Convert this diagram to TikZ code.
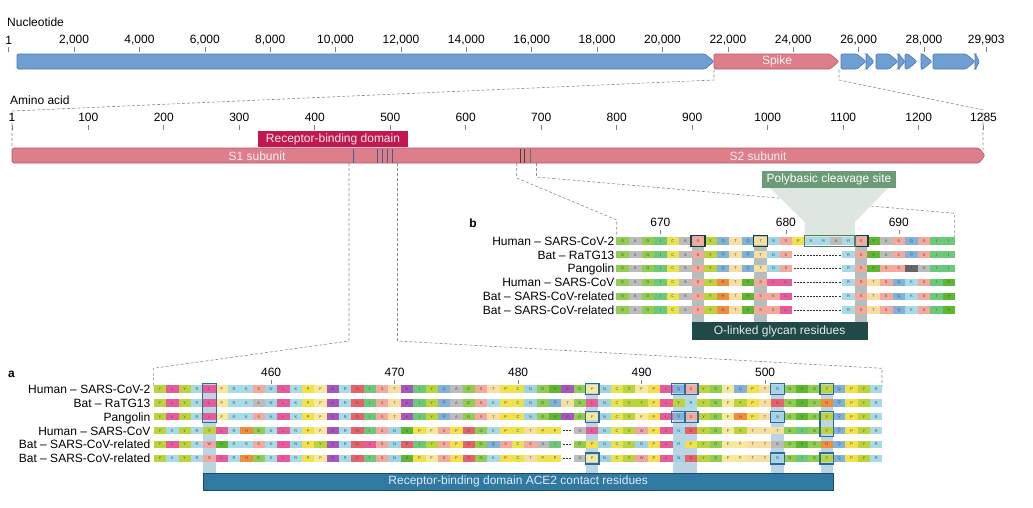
\documentclass[tikz,border=0pt]{standalone}
\usepackage{fontspec}
\setmainfont{Liberation Sans}
\usetikzlibrary{calc}
\definecolor{geneblue}{HTML}{6E9ED2}
\definecolor{genebluedk}{HTML}{4B79AC}
\definecolor{spike}{HTML}{DC7F8B}
\definecolor{spikedk}{HTML}{B55A68}
\definecolor{rbd}{HTML}{C2184F}
\definecolor{pbs}{HTML}{6C9B78}
\definecolor{pbsdk}{HTML}{4F8060}
\definecolor{pbslight}{HTML}{DEE6E0}
\definecolor{olink}{HTML}{1F4A47}
\definecolor{ace}{HTML}{3079A2}
\definecolor{acedk}{HTML}{1D4B67}
\definecolor{hla}{HTML}{BAD5E4}
\definecolor{cboxa}{HTML}{2E6C97}
\definecolor{hlb}{HTML}{B3BEBD}
\definecolor{cboxb}{HTML}{1E3C3B}
\definecolor{rbdmark}{HTML}{3D5E96}
\definecolor{dashc}{HTML}{8C8C8C}
% amino acid colours
\definecolor{aaY}{HTML}{BAD43A}
\definecolor{aaL}{HTML}{E85A9A}
\definecolor{aaR}{HTML}{A8DBE8}
\definecolor{aaK}{HTML}{A8DBE8}
\definecolor{aaN}{HTML}{9FD3E6}
\definecolor{aaF}{HTML}{F6E99A}
\definecolor{aaS}{HTML}{F5A99C}
\definecolor{aaP}{HTML}{F2E14A}
\definecolor{aaE}{HTML}{A855C0}
\definecolor{aaD}{HTML}{E8606A}
\definecolor{aaI}{HTML}{6CC97A}
\definecolor{aaT}{HTML}{F6DFA0}
\definecolor{aaQ}{HTML}{7FB3DD}
\definecolor{aaA}{HTML}{BCBCBC}
\definecolor{aaG}{HTML}{8FCE4F}
\definecolor{aaC}{HTML}{E9E34E}
\definecolor{aaV}{HTML}{5CB82E}
\definecolor{aaH}{HTML}{F08C3C}
\definecolor{aaW}{HTML}{F4A3A8}
\definecolor{aaX}{HTML}{666666}
\def\gapchar{-}
\newcommand\seqrow[5]{%
  \foreach \ltr [count=\ii] in {#5}{%
    \edef\tmpl{\ltr}%
    \ifx\tmpl\gapchar\relax\else
      \node[cell, minimum width=#3pt, fill=aa\ltr] (#1-\ii) at ({#2+(\ii-1)*#3},#4) {\ltr};
    \fi}}
\newcommand\gene[4]{%
  \pgfmathsetmacro\tp{min(9,(#2-#1)*0.9)}%
  \filldraw[fill=#3,draw=#4,line width=0.6pt,rounded corners=1.2pt] (#1,54) -- ({#2-\tp},54) -- (#2,61.5) -- ({#2-\tp},69) -- (#1,69) -- cycle;}
\newcommand\boxA[2]{\draw[boxa] ($(#1.north west)+(-0.5,-1.7)$) rectangle ($(#2.south east)+(0.5,1.7)$);}
\newcommand\boxB[2]{\draw[boxb] ($(#1.north west)+(-0.5,-1.7)$) rectangle ($(#2.south east)+(0.5,1.7)$);}
\begin{document}
\begin{tikzpicture}[x=1pt,y=-1pt,
  txt/.style={font=\fontsize{12}{14}\selectfont, inner sep=0},
  cell/.style={inner sep=0, minimum height=7.3pt, font=\fontsize{4}{4}\selectfont, text=black!70},
  dashln/.style={draw=dashc, line width=0.6pt, dash pattern=on 3pt off 2pt},
  tickm/.style={draw=black!50, line width=0.6pt},
  gapd/.style={draw=black!80, line width=0.6pt, dash pattern=on 2pt off 1.2pt},
  boxa/.style={draw=cboxa, line width=1.3pt},
  boxb/.style={draw=cboxb, line width=1.3pt},
  rlabel/.style={txt, anchor=base east}]
\useasboundingbox (0,0) rectangle (1033,507);

% ---------------- nucleotide axis ----------------
\node[txt, anchor=west] (ntitle) at (7,22) {Nucleotide};
\foreach \n/\lab [count=\k] in {0.001/1,2/{2,000},4/{4,000},6/{6,000},8/{8,000},10/{10,000},12/{12,000},14/{14,000},16/{16,000},18/{18,000},20/{20,000},22/{22,000},24/{24,000},26/{26,000},28/{28,000},29.903/{29,903}}{
  \pgfmathsetmacro\xx{8.7+(\n-0.001)*32.69}
  \node[txt] (nt\k) at (\xx,40) {\lab};
  \draw[tickm] (\xx,47) -- (\xx,51.5);
}
\gene{17}{714}{geneblue}{genebluedk}
\gene{714}{839}{spike}{spikedk}
\node[txt, text=white!88!spike] (spk) at (777,61.5) {Spike};
\gene{841}{866}{geneblue}{genebluedk}
\gene{866}{874}{geneblue}{genebluedk}
\gene{876}{898}{geneblue}{genebluedk}
\gene{898}{905}{geneblue}{genebluedk}
\gene{905}{917}{geneblue}{genebluedk}
\gene{921}{932}{geneblue}{genebluedk}
\gene{933}{975}{geneblue}{genebluedk}
\gene{975}{979.5}{geneblue}{genebluedk}

% zoom lines nucleotide -> amino acid
\coordinate (spL) at (714,69.5);
\coordinate (spR) at (839,69.5);
\coordinate (spLb) at (714,80);
\coordinate (spRb) at (839,80);
\coordinate (aaLt) at (12,111);
\coordinate (aaRt) at (983,110);
\coordinate (aaLb) at (12,148);
\coordinate (aaRb) at (983,152);
\draw[dashln] (spL) -- (spLb) -- (aaLt) -- (aaLb);
\draw[dashln] (spR) -- (spRb) -- (aaRt) -- (aaRb);

% ---------------- amino acid axis ----------------
\node[txt, anchor=west] (atitle) at (10,100) {Amino acid};
\node[txt] (at0) at (12,117.5) {1};
\draw[tickm] (12,125) -- (12,130);
\foreach \n [count=\k] in {100,200,300,400,500,600,700,800,900,1000,1100,1200}{
  \pgfmathsetmacro\xx{13.56+(\n-1)*0.75491}
  \node[txt] (at\k) at (\xx,117.5) {\n};
  \draw[tickm] (\xx,125) -- (\xx,130);
}
\node[txt] (atend) at (983.5,117.5) {1285};
\draw[tickm] (983,125) -- (983,130);

\filldraw[fill=spike, draw=spikedk, line width=0.6pt, rounded corners=1.5pt] (12,148) -- (979,148) -- (985,155.5) -- (979,163) -- (12,163) -- cycle;
\node[txt, text=white!85!spike] (s1) at (257,156) {S1 subunit};
\node[txt, text=white!85!spike] (s2) at (758,156) {S2 subunit};
\node[txt, fill=rbd, text=white!90!rbd, minimum width=150pt, minimum height=16pt] (rbdl) at (333,139) {Receptor-binding domain};
\foreach \xx in {353.3,377.7,382.6,387.5,392.5}{
  \draw[rbdmark, line width=1.3pt] (\xx,148.5) -- (\xx,162.5);
}
\draw[black!75, line width=1.4pt] (520.5,148.5) -- (520.5,162.5);
\draw[black!75, line width=1.4pt] (524.5,148.5) -- (524.5,162.5);
\draw[pbsdk, line width=1.4pt] (530.5,148.5) -- (530.5,162.5);

% ---------------- zoom lines to panels ----------------
\coordinate (raL) at (349,163);
\coordinate (raLm) at (349,341);
\coordinate (raLe) at (153.3,368.3);
\coordinate (raLf) at (153.3,388);
\coordinate (raR) at (397.5,163);
\coordinate (raRm) at (397.5,341);
\coordinate (raRe) at (882,368.3);
\coordinate (raRf) at (882,387);
\draw[dashln] (raL) -- (raLm) -- (raLe) -- (raLf);
\draw[dashln] (raR) -- (raRm) -- (raRe) -- (raRf);
\coordinate (rbL) at (516.7,163);
\coordinate (rbLm) at (516.7,178);
\coordinate (rbLe) at (616.7,220);
\coordinate (rbLf) at (616.7,237);
\coordinate (rbR) at (536.5,163);
\coordinate (rbRm) at (536.5,177);
\coordinate (rbRe) at (954.3,213.3);
\coordinate (rbRf) at (954.3,237);
\draw[dashln] (rbL) -- (rbLm) -- (rbLe) -- (rbLf);
\draw[dashln] (rbR) -- (rbRm) -- (rbRe) -- (rbRf);

% ---------------- panel b ----------------
\fill[pbslight] (770,188) -- (888,188) -- (854.9,222) -- (854.9,237) -- (804.7,237) -- (804.7,222) -- cycle;
\node[txt, fill=pbs, text=white, minimum width=134pt, minimum height=17pt] (pbsl) at (829,179.5) {Polybasic cleavage site};
\node[font=\bfseries\fontsize{12}{14}\selectfont, inner sep=0] (pb) at (473,223) {b};
\foreach \c/\lab [count=\k] in {4/670,14/680,23/690}{
  \pgfmathsetmacro\xx{622.7+(\c-1)*12.55}
  \node[txt] (bn\k) at (\xx,222.5) {\lab};
  \draw[tickm] (\xx,230) -- (\xx,233.5);
}
\foreach \c in {7,12,20}{
  \pgfmathsetmacro\xx{622.7+(\c-1)*12.55}
  \fill[hlb] ({\xx-6.275},236) rectangle ({\xx+6.275},323);
}
\node[txt, fill=olink, text=white!88!olink, minimum width=175.8pt, minimum height=18pt] (olk) at (779.6,331) {O-linked glycan residues};
\foreach \lab [count=\r] in {Human \textendash{} SARS-CoV-2, Bat \textendash{} RaTG13, Pangolin, Human \textendash{} SARS-CoV, Bat \textendash{} SARS-CoV-related, Bat \textendash{} SARS-CoV-related}{
  \node[rlabel] (lb\r) at (614.5,{241+(\r-1)*13.8+4.3}) {\lab};
}
\seqrow{b1}{622.7}{12.55}{241}{G,A,G,I,C,A,S,Y,Q,T,Q,T,N,S,P,R,R,A,R,S,V,A,S,Q,S,I,I}
\seqrow{b2}{622.7}{12.55}{254.8}{G,A,G,I,C,A,S,Y,Q,T,Q,T,N,S,-,-,-,-,R,S,V,A,S,Q,S,I,I}
\seqrow{b3}{622.7}{12.55}{268.6}{G,A,G,I,C,A,S,Y,Q,T,Q,T,N,S,-,-,-,-,R,S,V,S,S,X,A,I,I}
\seqrow{b4}{622.7}{12.55}{282.4}{G,A,G,I,C,A,S,Y,H,T,V,S,L,L,-,-,-,-,R,S,T,S,Q,K,S,I,V}
\seqrow{b5}{622.7}{12.55}{296.2}{G,A,G,I,C,A,S,Y,H,T,V,S,S,L,-,-,-,-,R,S,T,S,Q,K,S,I,V}
\seqrow{b6}{622.7}{12.55}{310}{G,A,G,I,C,A,S,Y,H,T,V,S,S,L,-,-,-,-,R,S,T,S,Q,K,S,I,V}
\foreach \r in {2,...,6}{
  \draw[gapd] ($(b\r-14.east)+(1.5,0)$) -- ($(b\r-19.west)+(-1.5,0)$);
}
\boxB{b1-7}{b1-7}
\boxB{b1-12}{b1-12}
\boxB{b1-20}{b1-20}
\draw[draw=pbsdk, line width=1.3pt] ($(b1-16.north west)+(0,-1.7)$) rectangle ($(b1-19.south east)+(0,1.7)$);

% ---------------- panel a ----------------
\node[font=\bfseries\fontsize{12}{14}\selectfont, inner sep=0] (pa) at (11.5,374) {a};
\foreach \c/\lab [count=\k] in {10/460,20/470,30/480,40/490,50/500}{
  \pgfmathsetmacro\xx{160+(\c-1)*12.35}
  \node[txt] (an\k) at (\xx,372) {\lab};
  \draw[tickm] (\xx,380) -- (\xx,383.5);
}
\foreach \c in {5,36,43,44,51,55}{
  \pgfmathsetmacro\xx{160+(\c-1)*12.35}
  \fill[hla] ({\xx-6.175},384) rectangle ({\xx+6.175},473);
}
\node[txt, fill=ace, draw=acedk, line width=0.8pt, text=white!85!ace, minimum width=629.9pt, minimum height=17pt] (ace2) at (518.15,481.5) {Receptor-binding domain ACE2 contact residues};
\foreach \lab [count=\r] in {Human \textendash{} SARS-CoV-2, Bat \textendash{} RaTG13, Pangolin, Human \textendash{} SARS-CoV, Bat \textendash{} SARS-CoV-related, Bat \textendash{} SARS-CoV-related}{
  \node[rlabel] (la\r) at (150.5,{389+(\r-1)*13.9+4.3}) {\lab};
}
\seqrow{a1}{160}{12.35}{389}{Y,L,Y,R,L,F,R,K,S,N,L,K,P,F,E,R,D,I,S,T,E,I,Y,Q,A,G,S,T,P,C,N,G,V,E,G,F,N,C,Y,F,P,L,Q,S,Y,G,F,Q,P,T,N,G,V,G,Y,Q,P,Y,R}
\seqrow{a2}{160}{12.35}{402.9}{Y,L,Y,R,L,F,R,K,A,N,L,K,P,F,E,R,D,I,S,T,E,I,Y,Q,A,G,S,K,P,C,N,G,Q,T,G,L,N,C,Y,Y,P,L,Y,R,Y,G,F,Y,P,T,D,G,V,G,H,Q,P,Y,R}
\seqrow{a3}{160}{12.35}{416.8}{Y,L,Y,R,L,F,R,K,S,N,L,K,P,F,E,R,D,I,S,T,E,I,Y,Q,A,G,S,T,P,C,N,G,V,E,G,F,N,C,Y,F,P,L,Q,S,Y,G,F,H,P,T,N,G,V,G,Y,Q,P,Y,R}
\seqrow{a4}{160}{12.35}{430.7}{Y,K,Y,R,Y,L,R,H,G,K,L,R,P,F,E,R,D,I,S,N,V,P,F,S,P,D,G,K,P,C,T,P,P,-,A,L,N,C,Y,W,P,L,N,D,Y,G,F,Y,T,T,T,G,I,G,Y,Q,P,Y,R}
\seqrow{a5}{160}{12.35}{444.6}{Y,L,Y,R,W,V,R,R,S,K,L,N,P,Y,E,R,D,L,S,N,D,I,Y,S,P,D,G,Q,S,C,S,A,I,-,G,P,N,C,Y,N,P,L,R,P,Y,G,F,F,T,T,A,G,V,G,H,Q,P,Y,R}
\seqrow{a6}{160}{12.35}{458.5}{Y,K,Y,R,S,L,R,H,G,K,L,R,P,F,E,R,D,I,S,N,V,P,F,S,P,D,G,K,P,C,T,P,P,-,A,F,N,C,Y,W,P,L,N,D,Y,G,F,F,T,T,N,G,I,G,Y,Q,P,Y,R}
\foreach \r in {4,5,6}{
  \draw[gapd] ($(a\r-33.east)+(1.5,0)$) -- ($(a\r-35.west)+(-1.5,0)$);
}
\boxA{a1-5}{a3-5}
\boxA{a1-36}{a1-36}
\boxA{a3-36}{a3-36}
\boxA{a6-36}{a6-36}
\boxA{a1-43}{a1-43}
\boxA{a1-44}{a1-44}
\boxA{a3-43}{a3-43}
\boxA{a3-44}{a3-44}
\boxA{a1-51}{a1-51}
\boxA{a3-51}{a3-51}
\boxA{a6-51}{a6-51}
\boxA{a1-55}{a1-55}
\boxA{a3-55}{a4-55}
\boxA{a6-55}{a6-55}
\end{tikzpicture}
\end{document}
